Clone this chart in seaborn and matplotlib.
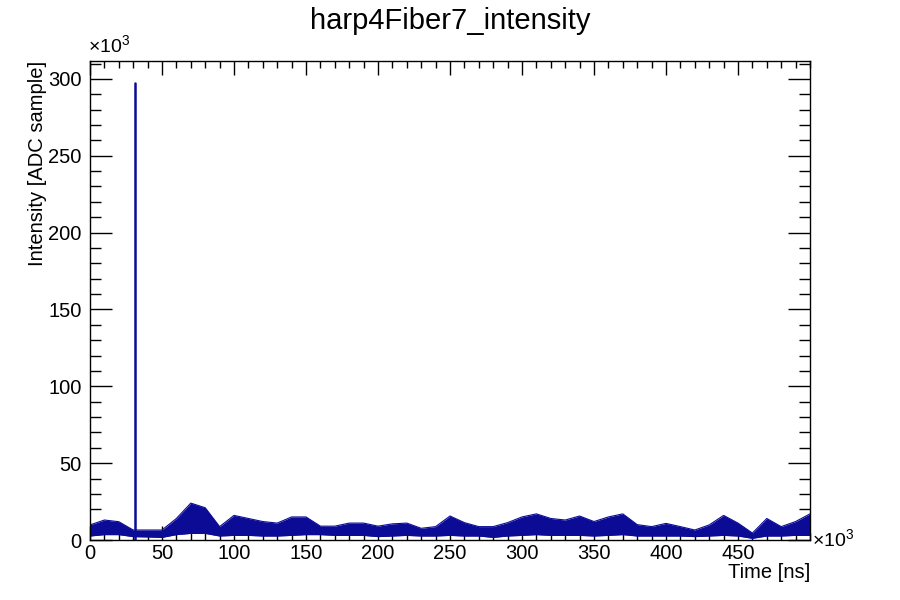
"""
Recreation of the ROOT-style harp4Fiber7_intensity plot
"""

import pandas as pd
import matplotlib
matplotlib.use("Agg")
import matplotlib.pyplot as plt
import seaborn as sns
from matplotlib.ticker import MultipleLocator

# Values, both axes in units of 10^3
time_k = list(range(0, 501, 10))
upper_k = [9.8, 13, 11.9, 6.5, 6.5, 6.5, 14, 24, 21, 8.7,
           16, 14, 12, 11, 15, 15, 9, 9, 11, 11,
           9, 10.5, 11, 7.6, 8.7, 15.6, 11.3, 8.7, 8.7, 11.3,
           15, 17, 14, 13, 15.6, 12, 15, 17, 10, 8.7,
           10.8, 8.7, 6.5, 9.8, 16, 11, 4.5, 14, 8.7, 12, 17]
lower_k = [2.6, 3.5, 3.5, 2.2, 2.0, 1.7, 3.5, 4.3, 4.3, 2.6,
           3.0, 3.0, 2.6, 2.6, 3.0, 3.5, 3.5, 3.0, 3.0, 3.0,
           2.2, 2.6, 3.0, 2.6, 2.6, 3.0, 2.6, 2.6, 1.7, 2.6,
           3.0, 3.5, 3.0, 3.0, 3.0, 2.6, 3.0, 3.5, 2.6, 2.6,
           2.6, 2.6, 2.2, 2.6, 3.0, 2.6, 1.1, 2.6, 2.6, 3.0, 3.0]
spike_time_k = [31, 31]
spike_height_k = [0, 297]

df = pd.DataFrame({"time": time_k, "upper": upper_k, "lower": lower_k})
spike = pd.DataFrame({"time": spike_time_k, "height": spike_height_k})

LINE_COLOR = "#0b0b96"

sns.set_style("ticks")
plt.rcParams['font.family'] = ['Liberation Sans', 'DejaVu Sans']
plt.rcParams['mathtext.fontset'] = 'custom'
plt.rcParams['mathtext.rm'] = 'Liberation Sans'
plt.rcParams['text.color'] = 'black'

fig = plt.figure(figsize=(9, 6), dpi=100)
ax = fig.add_axes([0.1, 0.1, 0.8, 0.798])

# noise band
ax.fill_between(df["time"], df["lower"], df["upper"], color=LINE_COLOR, linewidth=0)
sns.lineplot(data=df, x="time", y="upper", ax=ax, color=LINE_COLOR, linewidth=0.8)
sns.lineplot(data=df, x="time", y="lower", ax=ax, color=LINE_COLOR, linewidth=0.8)
# big single-sample spike
sns.lineplot(data=spike, x="time", y="height", ax=ax, color=LINE_COLOR,
             linewidth=1.8, estimator=None, sort=False)

ax.set_xlim(0, 500)
ax.set_ylim(0, 311.5)

ax.xaxis.set_major_locator(MultipleLocator(50))
ax.xaxis.set_minor_locator(MultipleLocator(10))
ax.yaxis.set_major_locator(MultipleLocator(50))
ax.yaxis.set_minor_locator(MultipleLocator(10))
ax.set_xticks([t for t in range(0, 500, 50)])
ax.set_xticklabels([str(t) for t in range(0, 500, 50)])

ax.tick_params(axis='both', which='both', direction='in', top=True, right=True,
               colors='black', labelsize=14.5, width=1)
ax.tick_params(axis='x', which='major', length=10, pad=3)
ax.tick_params(axis='x', which='minor', length=5)
ax.tick_params(axis='y', which='major', length=16, pad=6)
ax.tick_params(axis='y', which='minor', length=8)
for s in ax.spines.values():
    s.set_visible(True)
    s.set_linewidth(1)
    s.set_color('black')

ax.set_xlabel("")
ax.set_ylabel("")
fig.text(0.9, 0.03, "Time [ns]", ha='right', va='bottom', fontsize=14.5)
fig.text(0.042, 0.898, "Intensity [ADC sample]", ha='center', va='top',
         rotation=90, fontsize=14.5)
fig.text(0.5, 0.965, "harp4Fiber7_intensity", ha='center', va='center', fontsize=21)
fig.text(0.098, 0.905, "×10$^{3}$", ha='left', va='bottom', fontsize=14)
fig.text(0.902, 0.1, "×10$^{3}$", ha='left', va='center', fontsize=14)

fig.savefig("out.png", dpi=100)
plt.close(fig)
